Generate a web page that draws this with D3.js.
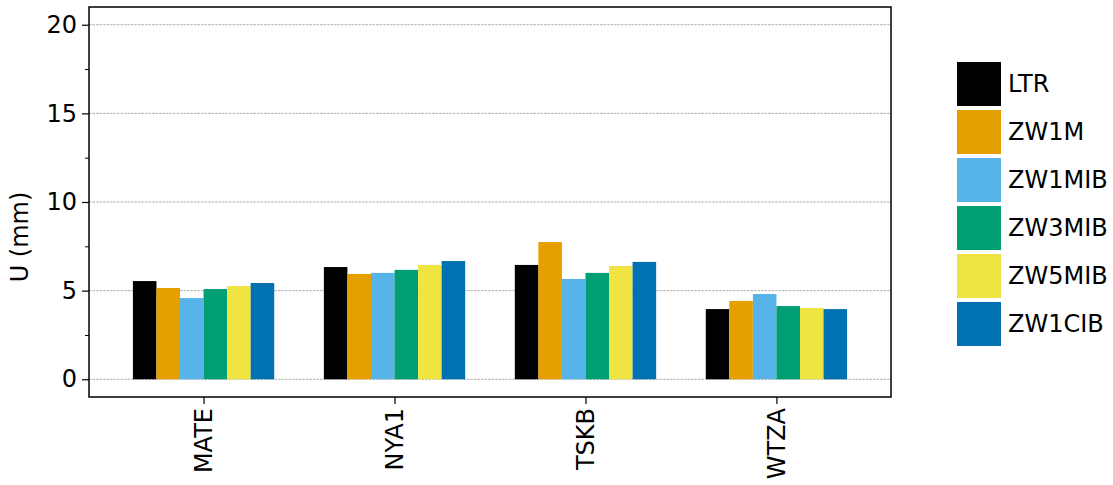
<!DOCTYPE html>
<html><head><meta charset="utf-8">
<script src="https://cdn.jsdelivr.net/npm/d3@7"></script>
<style>body{margin:0;background:#fff}svg{display:block}text{font-family:"DejaVu Sans",sans-serif}</style>
</head><body>
<svg id="c" width="1113" height="485"></svg>
<script>
const stations = ["MATE", "NYA1", "TSKB", "WTZA"];
const series = ["LTR", "ZW1M", "ZW1MIB", "ZW3MIB", "ZW5MIB", "ZW1CIB"];
const colors = ["#000000", "#E69F00", "#56B4E9", "#009E73", "#F0E442", "#0072B2"];
const LTR    = [5.54, 6.33, 6.45, 3.96];
const ZW1M   = [5.15, 5.94, 7.74, 4.42];
const ZW1MIB = [4.58, 6.00, 5.66, 4.81];
const ZW3MIB = [5.09, 6.17, 6.00, 4.13];
const ZW5MIB = [5.26, 6.45, 6.39, 4.02];
const ZW1CIB = [5.43, 6.67, 6.62, 3.96];
const values = [LTR, ZW1M, ZW1MIB, ZW3MIB, ZW5MIB, ZW1CIB];
const yTicks = [0, 5, 10, 15, 20];
const yMinor = [2.5, 7.5, 12.5, 17.5];

const FS = 24;
const svg = d3.select("#c");
const L = 89, R = 891, T = 7, B = 397;
const x = d3.scaleLinear().domain([-0.6, 3.6]).range([L, R]);
const y = d3.scaleLinear().domain([-1, 21]).range([B, T]);
const groupW = 0.74, bw = groupW / series.length;

// grid
svg.append("g").selectAll("line").data(yTicks).join("line")
  .attr("x1", L).attr("x2", R).attr("y1", d => y(d)).attr("y2", d => y(d))
  .attr("stroke", "#999").attr("stroke-width", 0.8).attr("stroke-dasharray", "2.5,1");

// bars
series.forEach((s, si) => {
  svg.append("g").selectAll("rect").data(values[si]).join("rect")
    .attr("x", (d, i) => x(i - groupW / 2 + si * bw))
    .attr("width", x(bw) - x(0))
    .attr("y", d => y(d))
    .attr("height", d => y(0) - y(d))
    .attr("fill", colors[si]);
});

// axes
const yAxis = d3.axisLeft(y).tickValues(yTicks).tickSize(7).tickPadding(5).tickFormat(d3.format("d"));
const gy = svg.append("g").attr("transform", `translate(${L},0)`).call(yAxis);
gy.select(".domain").remove();
gy.selectAll("text").attr("font-size", FS).attr("fill", "#000");
gy.selectAll("line").attr("stroke-width", 1.2);
svg.append("g").attr("transform", `translate(${L},0)`)
  .call(d3.axisLeft(y).tickValues(yMinor).tickSize(4).tickFormat(""))
  .call(g => g.select(".domain").remove())
  .selectAll("line").attr("stroke-width", 1);

const xAxis = d3.axisBottom(x).tickValues([0, 1, 2, 3]).tickSize(7).tickFormat(i => stations[i]);
const gx = svg.append("g").attr("transform", `translate(0,${B})`).call(xAxis);
gx.select(".domain").remove();
gx.selectAll("line").attr("stroke-width", 1.2);
gx.selectAll("text").attr("font-size", FS).attr("fill", "#000")
  .attr("transform", "rotate(-90)").attr("text-anchor", "end")
  .attr("x", -11).attr("y", 0).attr("dy", "0.35em");

// frame
svg.append("rect").attr("x", L).attr("y", T).attr("width", R - L).attr("height", B - T)
  .attr("fill", "none").attr("stroke", "#000").attr("stroke-width", 1.5);

// y label
svg.append("text").attr("transform", `translate(28,${(T + B) / 2 + 35}) rotate(-90)`)
  .attr("text-anchor", "middle").attr("font-size", FS).text("U (mm)");

// legend
const lg = svg.append("g").selectAll("g").data(series).join("g")
  .attr("transform", (d, i) => `translate(957,${62 + i * 48})`);
lg.append("rect").attr("width", 44).attr("height", 44).attr("fill", (d, i) => colors[i]);
lg.append("text").attr("x", 51).attr("y", 22).attr("dy", "0.35em").attr("font-size", FS).text(d => d);
</script>
</body></html>
